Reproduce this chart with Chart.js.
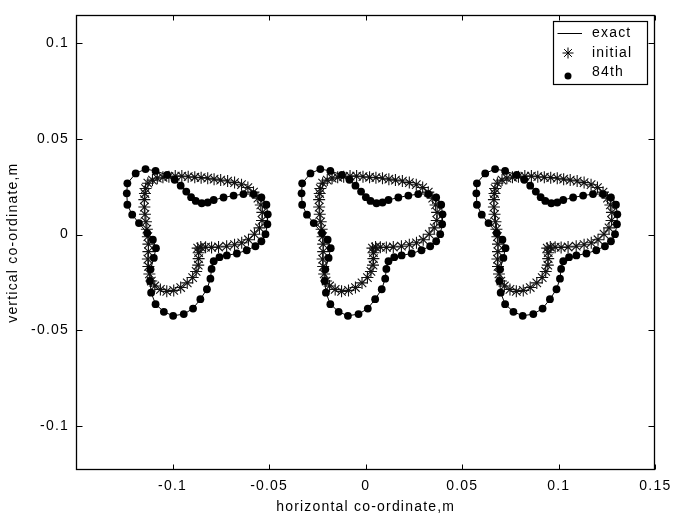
<!DOCTYPE html>
<html>
<head>
<meta charset="utf-8">
<script src="https://cdn.jsdelivr.net/npm/chart.js@4.4.0/dist/chart.umd.min.js"></script>
<style>
html,body{margin:0;padding:0;background:#fff;}
</style>
</head>
<body>
<canvas id="shapes" width="677" height="517"></canvas>
<script>
/* outline of one shape (m), relative to its own centre */
const exactX = [-0.0286,-0.0235,-0.0183,-0.0123,-0.0084,-0.0053,-0.0024,0.0001,0.0025,0.0056,
  0.0087,0.0118,0.0169,0.0221,0.0272,0.0324,0.0365,0.0391,0.0398,0.0396,
  0.0386,0.0365,0.0334,0.0289,0.0238,0.0186,0.0148,0.0118,0.0107,0.0101,
  0.0083,0.0049,0.0011,-0.0037,-0.0092,-0.0140,-0.0183,-0.0206,-0.0212,-0.0209,
  -0.0192,-0.0181,-0.0197,-0.0226,-0.0269,-0.0304,-0.0329,-0.0332,-0.0329];
const exactY = [0.0320,0.0343,0.0333,0.0312,0.0287,0.0256,0.0225,0.0196,0.0176,0.0164,
  0.0168,0.0181,0.0194,0.0204,0.0212,0.0212,0.0194,0.0156,0.0106,0.0054,
  0.0002,-0.0035,-0.0061,-0.0082,-0.0099,-0.0109,-0.0118,-0.0139,-0.0180,-0.0231,
  -0.0286,-0.0338,-0.0387,-0.0416,-0.0425,-0.0404,-0.0364,-0.0304,-0.0243,-0.0182,
  -0.0122,-0.0071,-0.0027,0.0008,0.0060,0.0104,0.0156,0.0216,0.0268];

/* starting guess */
const initialX = [-0.0235,-0.0223,-0.0199,-0.0174,-0.0145,-0.0114,-0.0081,-0.0047,-0.0014,0.0020,
  0.0053,0.0087,0.0120,0.0154,0.0190,0.0226,0.0262,0.0295,0.0324,0.0347,
  0.0362,0.0370,0.0368,0.0355,0.0329,0.0298,0.0263,0.0226,0.0185,0.0143,
  0.0107,0.0076,0.0051,0.0035,0.0040,0.0040,0.0038,0.0027,0.0009,-0.0019,
  -0.0053,-0.0089,-0.0125,-0.0158,-0.0187,-0.0205,-0.0215,-0.0220,-0.0223,-0.0220,
  -0.0220,-0.0223,-0.0228,-0.0233,-0.0238,-0.0241,-0.0241,-0.0238];
const initialY = [0.0241,0.0269,0.0285,0.0295,0.0300,0.0303,0.0306,0.0306,0.0303,0.0300,
  0.0298,0.0295,0.0290,0.0285,0.0280,0.0272,0.0261,0.0246,0.0222,0.0191,
  0.0155,0.0116,0.0074,0.0035,0.0002,-0.0027,-0.0043,-0.0053,-0.0061,-0.0065,
  -0.0067,-0.0066,-0.0065,-0.0071,-0.0095,-0.0126,-0.0160,-0.0193,-0.0225,-0.0253,
  -0.0277,-0.0292,-0.0297,-0.0287,-0.0269,-0.0243,-0.0206,-0.0167,-0.0128,-0.0089,
  -0.0050,-0.0011,0.0028,0.0067,0.0106,0.0144,0.0183,0.0215];

/* horizontal centre of each of the three bodies */
const centresX = [-0.0905, 0, 0.0905];

const xTicks = [-0.1,-0.05,0,0.05,0.1,0.15];
const yTicks = [-0.1,-0.05,0,0.05,0.1];
const xRange = [-0.15,0.15];
const yRange = [-0.1232,0.1147];

const FONT = '"Liberation Sans", Arial, Helvetica, sans-serif';
const STAR_R = 6, DOT_R = 3.9;

function shapePoints(xs, ys, dx, closed){
  const pts = xs.map((x,i)=>({x:x+dx, y:ys[i]}));
  if(closed) pts.push(pts[0]);
  return pts;
}

const datasets = [];
centresX.forEach(cx=>{
  datasets.push({
    label:"exact",
    data:shapePoints(exactX,exactY,cx,true),
    showLine:true,
    borderColor:"#000",
    borderWidth:1,
    pointRadius:0,
    order:3
  });
  datasets.push({
    label:"initial",
    data:shapePoints(initialX,initialY,cx,false),
    showLine:false,
    pointStyle:"star",
    pointRadius:STAR_R,
    borderColor:"#111",
    borderWidth:1.1,
    order:2
  });
  datasets.push({
    label:"84th",
    data:shapePoints(exactX,exactY,cx,false),
    showLine:false,
    pointStyle:"circle",
    pointRadius:DOT_R,
    backgroundColor:"#000",
    borderColor:"#000",
    borderWidth:0,
    order:1
  });
});

/* axes box with inward ticks on every side, plus the boxed legend */
const frame = {
  id:"frame",
  beforeDraw(chart){
    chart.ctx.letterSpacing = "1.2px";
  },
  afterDraw(chart){
    const ctx = chart.ctx;
    const a = chart.chartArea;
    const xs = chart.scales.x, ys = chart.scales.y;
    const L = Math.round(a.left)+0.5, R = Math.round(a.right)-0.5;
    const T = Math.round(a.top)+0.5, B = Math.round(a.bottom)-0.5;
    ctx.save();
    ctx.strokeStyle = "#000";
    ctx.lineWidth = 1.3;
    ctx.strokeRect(L, T, R-L, B-T);
    ctx.lineWidth = 1;
    ctx.beginPath();
    xTicks.forEach(v=>{
      const p = Math.round(xs.getPixelForValue(v))+0.5;
      ctx.moveTo(p,B); ctx.lineTo(p,B-5);
      ctx.moveTo(p,T); ctx.lineTo(p,T+5);
    });
    yTicks.forEach(v=>{
      const p = Math.round(ys.getPixelForValue(v))+0.5;
      ctx.moveTo(L,p); ctx.lineTo(L+6,p);
      ctx.moveTo(R,p); ctx.lineTo(R-6,p);
    });
    ctx.stroke();

    // legend
    const bx = 553.5, by = 21.5, bw = 94, bh = 63;
    ctx.fillStyle = "#fff";
    ctx.fillRect(bx, by, bw, bh);
    ctx.lineWidth = 1.2;
    ctx.strokeRect(bx, by, bw, bh);
    ctx.lineWidth = 1;
    const mx = 568, tx = 592;
    const rows = [33, 53, 72];
    ctx.beginPath();
    ctx.moveTo(bx+4, rows[0]+0.5); ctx.lineTo(582, rows[0]+0.5);
    const r = STAR_R - 0.5;
    ctx.moveTo(mx-r, rows[1]); ctx.lineTo(mx+r, rows[1]);
    ctx.moveTo(mx, rows[1]-r); ctx.lineTo(mx, rows[1]+r);
    const d = r*Math.SQRT1_2;
    ctx.moveTo(mx-d, rows[1]-d); ctx.lineTo(mx+d, rows[1]+d);
    ctx.moveTo(mx-d, rows[1]+d); ctx.lineTo(mx+d, rows[1]-d);
    ctx.stroke();
    ctx.fillStyle = "#000";
    ctx.beginPath();
    ctx.arc(mx, rows[2]+4, DOT_R-0.4, 0, Math.PI*2);
    ctx.fill();
    ctx.font = "14px " + FONT;
    ctx.textBaseline = "middle";
    ctx.textAlign = "left";
    ctx.fillText("exact", tx, rows[0]);
    ctx.fillText("initial", tx, rows[1]);
    ctx.fillText("84th", tx, rows[2]);
    ctx.restore();
  }
};

new Chart(document.getElementById("shapes"),{
  type:"scatter",
  data:{datasets},
  plugins:[frame],
  options:{
    responsive:false,
    animation:false,
    layout:{padding:{top:12,right:19,left:0,bottom:0}},
    plugins:{
      legend:{display:false},
      tooltip:{enabled:false}
    },
    scales:{
      x:{
        type:"linear",
        min:xRange[0],
        max:xRange[1],
        bounds:"data",
        afterBuildTicks:s=>{ s.ticks = xTicks.map(v=>({value:v})); },
        afterFit:s=>{ s.height = 47; },
        grid:{display:false, drawTicks:false},
        border:{display:false},
        ticks:{
          color:"#000",
          padding:8,
          maxRotation:0,
          autoSkip:false,
          font:{family:FONT, size:14},
          callback:v=>String(v)
        },
        title:{
          display:true,
          text:"horizontal co-ordinate,m",
          color:"#000",
          font:{family:FONT, size:14},
          padding:{top:0,bottom:1}
        }
      },
      y:{
        type:"linear",
        min:yRange[0],
        max:yRange[1],
        bounds:"data",
        afterBuildTicks:s=>{ s.ticks = yTicks.map(v=>({value:v})); },
        afterFit:s=>{ s.width = 76; },
        grid:{display:false, drawTicks:false},
        border:{display:false},
        ticks:{
          color:"#000",
          padding:7,
          autoSkip:false,
          font:{family:FONT, size:14},
          callback:v=>String(v)
        },
        title:{
          display:true,
          text:"vertical co-ordinate,m",
          color:"#000",
          font:{family:FONT, size:14},
          padding:{top:5,bottom:0}
        }
      }
    }
  }
});
</script>
</body>
</html>
